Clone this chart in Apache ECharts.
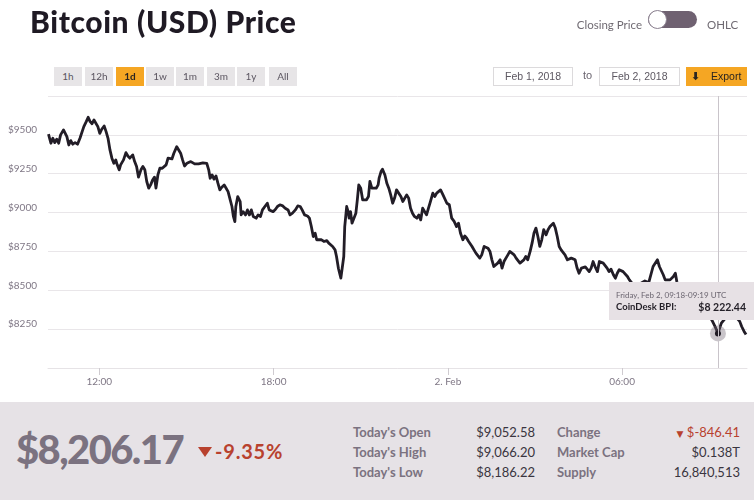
<!DOCTYPE html>
<html>
<head>
<meta charset="utf-8">
<title>Bitcoin (USD) Price</title>
<script src="https://cdn.jsdelivr.net/npm/echarts@6/dist/echarts.min.js"></script>
<style>
html, body { margin: 0; padding: 0; background: #fff; }
body { width: 754px; height: 500px; position: relative; overflow: hidden; font-family: Lato, "Open Sans", sans-serif; }
#chart { position: absolute; left: 0; top: 0; width: 754px; height: 500px; }
.abs { position: absolute; white-space: nowrap; }
.title { left: 30px; top: 6px; font-size: 30px; line-height: 30px; font-weight: 900; color: #1f1a24; letter-spacing: 0.6px; }
.toggleTxt { font-size: 11.5px; line-height: 14px; color: #6f6a72; top: 18px; }
.pill { left: 648px; top: 11px; width: 49px; height: 17px; border-radius: 9px; background: #6f6171; }
.knob { left: 648px; top: 10px; width: 17px; height: 17px; border-radius: 50%; background: #fff; border: 1px solid #8b8190; }
.btn { top: 67px; height: 19px; line-height: 19px; width: 28px; text-align: center; font-size: 10px; color: #5b5560; background: #e7e5e7; }
.btn.on { background: #f5a623; color: #2b2520; font-weight: 700; }
.date { top: 67px; height: 17px; line-height: 17px; border: 1px solid #dcdadc; text-align: center; font-size: 10.5px; color: #5d5862; background: #fff; font-family: "Liberation Sans", Arial, sans-serif; }
.export { left: 686px; top: 67px; width: 61px; height: 19px; line-height: 19px; background: #f5a623; font-size: 10.5px; color: #2b2520; font-family: "Liberation Sans", Arial, sans-serif; }
.panel { left: 0; top: 402px; width: 754px; height: 98px; background: #e6e2e6; }
.big { left: 16px; top: 429px; font-size: 40px; line-height: 40px; font-weight: 900; color: #7b7280; letter-spacing: -1.6px; }
.pct { left: 215px; top: 441px; font-size: 20px; line-height: 20px; font-weight: 700; color: #b8412e; letter-spacing: 0.8px; }
.tri { left: 198px; top: 447px; width: 0; height: 0; border-left: 7px solid transparent; border-right: 7px solid transparent; border-top: 10px solid #b8412e; }
.stat { font-size: 13px; line-height: 20px; top: 422px; }
.lbl { font-weight: 700; color: #7b7280; }
.val { color: #3a3540; text-align: right; }
</style>
</head>
<body>
<div id="chart"></div>
<div id="ui"></div>
<script>
// price data: minutes since Feb 1 2018 00:00 UTC -> CoinDesk BPI (USD)
var times = [
    615, 620, 624, 628, 632, 636, 640, 646, 650, 653, 657, 661, 665, 670, 675, 680, 684, 688, 693, 697,
    701, 705, 709, 713, 717, 721, 725, 730, 734, 738, 742, 746, 750, 754, 757, 761, 764, 770, 775, 779,
    783, 789, 793, 797, 801, 806, 810, 814, 818, 822, 826, 830, 834, 837, 841, 845, 850, 854, 858, 862,
    866, 870, 874, 880, 884, 888, 892, 896, 901, 905, 909, 913, 917, 921, 925, 929, 934, 938, 942, 946,
    949, 953, 957, 961, 965, 969, 973, 978, 982, 986, 990, 994, 997, 1000, 1002, 1006, 1011, 1013, 1017, 1022,
    1026, 1030, 1034, 1038, 1044, 1048, 1053, 1057, 1062, 1067, 1071, 1075, 1079, 1084, 1088, 1093, 1099, 1104, 1110, 1114,
    1119, 1125, 1130, 1135, 1139, 1144, 1150, 1154, 1158, 1162, 1166, 1169, 1173, 1179, 1184, 1190, 1194, 1198, 1202, 1207,
    1210, 1214, 1219, 1223, 1225, 1227, 1231, 1234, 1236, 1239, 1242, 1246, 1250, 1253, 1256, 1260, 1264, 1268, 1272, 1276,
    1279, 1283, 1287, 1292, 1296, 1298, 1302, 1305, 1310, 1314, 1318, 1322, 1326, 1330, 1334, 1338, 1343, 1347, 1351, 1355,
    1359, 1363, 1367, 1371, 1376, 1380, 1384, 1388, 1392, 1396, 1400, 1404, 1409, 1413, 1417, 1421, 1425, 1430, 1438, 1443,
    1448, 1453, 1458, 1462, 1466, 1471, 1475, 1479, 1483, 1486, 1490, 1494, 1498, 1502, 1506, 1510, 1515, 1519, 1523, 1527,
    1531, 1535, 1539, 1543, 1548, 1552, 1556, 1560, 1564, 1568, 1572, 1577, 1581, 1585, 1589, 1593, 1597, 1601, 1605, 1610,
    1614, 1618, 1622, 1626, 1630, 1634, 1638, 1643, 1647, 1651, 1655, 1658, 1662, 1666, 1670, 1674, 1678, 1682, 1687, 1691,
    1695, 1699, 1703, 1707, 1711, 1716, 1720, 1724, 1728, 1732, 1736, 1740, 1744, 1749, 1753, 1757, 1761, 1765, 1769, 1773,
    1777, 1782, 1786, 1790, 1794, 1798, 1802, 1806, 1811, 1815, 1822, 1831, 1839, 1847, 1855, 1864, 1873, 1877, 1881, 1885,
    1889, 1893, 1899, 1906, 1910, 1913, 1919, 1928, 1936, 1944, 1952, 1961, 1969, 1977, 1985, 1992, 1998, 2005, 2009, 2016,
    2025, 2033, 2043, 2047, 2052, 2056
];
var prices = [
    9505, 9446, 9478, 9450, 9472, 9446, 9500, 9532, 9521, 9489, 9435, 9463, 9440, 9450, 9440, 9478, 9472, 9553, 9585, 9613,
    9585, 9572, 9596, 9585, 9553, 9510, 9536, 9557, 9521, 9478, 9403, 9350, 9317, 9339, 9307, 9275, 9307, 9339, 9386, 9364,
    9350, 9371, 9328, 9296, 9228, 9275, 9296, 9275, 9200, 9157, 9178, 9210, 9228, 9157, 9242, 9285, 9285, 9275, 9307, 9350,
    9360, 9345, 9382, 9424, 9414, 9382, 9339, 9300, 9317, 9307, 9328, 9335, 9313, 9307, 9313, 9307, 9320, 9328, 9317, 9275,
    9221, 9242, 9215, 9236, 9189, 9146, 9163, 9178, 9157, 9135, 9086, 9039, 8975, 8942, 9039, 9103, 9071, 8985, 9006, 8985,
    9017, 8985, 9017, 8975, 8964, 8985, 8975, 9017, 9039, 9060, 9017, 9028, 9006, 9021, 9039, 9050, 9043, 9028, 9017, 8985,
    8996, 9017, 9043, 9039, 9017, 8985, 8978, 8964, 8910, 8846, 8867, 8825, 8814, 8825, 8814, 8820, 8803, 8792, 8782, 8760,
    8717, 8640, 8578, 8589, 8717, 8910, 9039, 9006, 8964, 9006, 8932, 8964, 8996, 9082, 9178, 9157, 9082, 9093, 9082, 9103,
    9200, 9157, 9167, 9157, 9178, 9221, 9264, 9279, 9242, 9189, 9157, 9114, 9060, 9093, 9146, 9135, 9103, 9071, 9093, 9114,
    9093, 9028, 8996, 8975, 8964, 8985, 8953, 9028, 9017, 8985, 9028, 9071, 9125, 9103, 9125, 9135, 9146, 9114, 9060, 9050,
    8964, 8943, 8910, 8932, 8868, 8825, 8850, 8835, 8814, 8825, 8782, 8760, 8739, 8750, 8707, 8728, 8782, 8792, 8771, 8750,
    8696, 8653, 8643, 8675, 8696, 8643, 8685, 8707, 8728, 8750, 8760, 8728, 8707, 8696, 8675, 8664, 8696, 8718, 8696, 8750,
    8803, 8868, 8900, 8846, 8782, 8825, 8890, 8857, 8890, 8910, 8921, 8932, 8900, 8846, 8782, 8760, 8771, 8728, 8696, 8685,
    8707, 8718, 8696, 8643, 8610, 8643, 8636, 8650, 8643, 8620, 8643, 8685, 8653, 8620, 8685, 8696, 8675, 8664, 8643, 8620,
    8636, 8600, 8578, 8610, 8632, 8643, 8620, 8610, 8589, 8567, 8540, 8530, 8545, 8560, 8550, 8653, 8696, 8653, 8643, 8600,
    8567, 8567, 8567, 8589, 8610, 8556, 8500, 8470, 8440, 8420, 8390, 8370, 8350, 8330, 8311, 8267, 8222.44, 8289, 8300, 8330,
    8350, 8335, 8300, 8267, 8235, 8215
];

var xTickMinutes = [720, 1080, 1440, 1800];
var xTickLabels = ['12:00', '18:00', '2. Feb', '06:00'];
var rangeButtons = ['1h', '12h', '1d', '1w', '1m', '3m', '1y', 'All'];
var activeRange = '1d';
var dateFrom = 'Feb 1, 2018';
var dateTo = 'Feb 2, 2018';

var currentPrice = '$8,206.17';
var changePct = '-9.35%';
var statLabelsLeft = ["Today's Open", "Today's High", "Today's Low"];
var statValuesLeft = ['$9,052.58', '$9,066.20', '$8,186.22'];
var statLabelsRight = ['Change', 'Market Cap', 'Supply'];
var statValuesRight = ['$-846.41', '$0.138T', '16,840,513'];

var hoverTime = 1998; // Feb 2, 09:18 UTC
var hoverIdx = times.indexOf(hoverTime);

// ---- page chrome (html) ----
var ui = document.getElementById('ui');
function add(cls, text, css) {
    var d = document.createElement('div');
    d.className = 'abs ' + cls;
    if (text) d.textContent = text;
    if (css) d.style.cssText = css;
    ui.appendChild(d);
    return d;
}
add('title', 'Bitcoin (USD) Price');
add('toggleTxt', 'Closing Price', 'right:' + (754 - 642) + 'px');
add('pill');
add('knob');
add('toggleTxt', 'OHLC', 'left:707px');

var btnLeft = [54, 85, 116, 146, 176, 207, 237, 269];
rangeButtons.forEach(function(b, i) {
    add('btn' + (b === activeRange ? ' on' : ''), b, 'left:' + btnLeft[i] + 'px');
});
add('date', dateFrom, 'left:493px;width:78px');
add('abs', 'to', 'left:583px;top:69px;font-size:11px;color:#6b6570;font-family:Liberation Sans,Arial,sans-serif');
add('date', dateTo, 'left:599px;width:79px');
var exp = add('export', '');
exp.innerHTML = '<span style="position:absolute;left:5px;top:0;font-family:DejaVu Sans;font-size:11px;font-weight:bold">&#x2B07;</span>' +
    '<span style="position:absolute;left:25px;top:0">Export</span>';

add('panel');
add('big', currentPrice);
add('tri');
add('pct', changePct);
statLabelsLeft.forEach(function(t, i) {
    add('stat lbl', t, 'left:353px;top:' + (422 + i * 20) + 'px');
});
statValuesLeft.forEach(function(t, i) {
    add('stat val', t, 'left:440px;width:95px;top:' + (422 + i * 20) + 'px');
});
statLabelsRight.forEach(function(t, i) {
    add('stat lbl', t, 'left:557px;top:' + (422 + i * 20) + 'px');
});
statValuesRight.forEach(function(t, i) {
    var d = add('stat val', '', 'left:640px;width:100px;top:' + (422 + i * 20) + 'px');
    if (i === 0) {
        d.innerHTML = '<span style="font-family:DejaVu Sans;font-size:9px;color:#b8412e">&#9660;</span> ' +
            '<span style="color:#b8412e">' + t + '</span>';
    } else {
        d.textContent = t;
    }
});

// ---- chart ----
function pad(n) { return (n < 10 ? '0' : '') + n; }
function hhmm(m) {
    var d = new Date(Date.UTC(2018, 1, 1, 0, m));
    return pad(d.getUTCHours()) + ':' + pad(d.getUTCMinutes());
}
var dayNames = ['Sunday', 'Monday', 'Tuesday', 'Wednesday', 'Thursday', 'Friday', 'Saturday'];

var chart = echarts.init(document.getElementById('chart'));
var option = {
    animation: false,
    textStyle: { fontFamily: 'Lato, "Open Sans", sans-serif' },
    grid: { left: 48, right: 7, top: 96, bottom: 132 },
    tooltip: {
        trigger: 'axis',
        triggerOn: 'none',
        alwaysShowContent: true,
        transitionDuration: 0,
        position: [609, 282],
        backgroundColor: '#e7e1e5',
        borderWidth: 0,
        borderRadius: 0,
        padding: [7, 8, 7, 7],
        extraCssText: 'box-shadow:none;width:130px;',
        axisPointer: {
            type: 'line',
            animation: false,
            lineStyle: { color: '#c9c4ca', width: 1, type: 'solid' }
        },
        formatter: function(params) {
            var p = params[0];
            var m = p.value[0];
            var d = new Date(Date.UTC(2018, 1, 1, 0, m));
            var head = dayNames[d.getUTCDay()] + ', Feb ' + d.getUTCDate() + ', ' + hhmm(m) + '-' + hhmm(m + 1) + ' UTC';
            var v = p.value[1].toFixed(2).replace(/\B(?=(\d{3})+(?!\d))/g, ' ');
            return '<div style="font-size:8px;line-height:12px;color:#6b6570">' + head + '</div>' +
                '<div style="font-size:9.5px;line-height:12px;font-weight:700;color:#231f27">CoinDesk BPI:' +
                '<span style="float:right;font-size:10.5px">$' + v + '</span></div>';
        }
    },
    xAxis: {
        type: 'value',
        min: 614,
        max: 2058,
        splitLine: { show: false },
        axisLine: { show: true, lineStyle: { color: '#e6e3e6' } },
        axisTick: {
            show: true,
            length: 7,
            customValues: xTickMinutes,
            lineStyle: { color: '#cfcbd0' }
        },
        axisLabel: {
            customValues: xTickMinutes,
            fontSize: 10,
            color: '#7f7785',
            margin: 9,
            formatter: function(v) {
                var i = xTickMinutes.indexOf(v);
                return i >= 0 ? xTickLabels[i] : '';
            }
        }
    },
    yAxis: {
        type: 'value',
        min: 8000,
        max: 9750,
        interval: 250,
        axisLine: { show: false },
        axisTick: { show: false },
        splitLine: { lineStyle: { color: '#e9e6e9', width: 1 } },
        axisLabel: {
            fontSize: 10,
            color: '#7f7785',
            margin: 11,
            verticalAlign: 'bottom',
            formatter: function(v) {
                if (v === 8000 || v === 9750) return '';
                return '$' + v;
            }
        }
    },
    series: [{
        type: 'line',
        data: times.map(function(t, i) { return [t, prices[i]]; }),
        symbol: 'none',
        lineStyle: { color: '#1f1b24', width: 2.8, join: 'round' },
        markPoint: {
            silent: true,
            label: { show: false },
            data: [
                { coord: [times[hoverIdx], prices[hoverIdx]], symbol: 'circle', symbolSize: 16,
                  itemStyle: { color: 'rgba(112,102,116,0.38)' } },
                { coord: [times[hoverIdx], prices[hoverIdx]], symbol: 'circle', symbolSize: 6,
                  itemStyle: { color: '#1f1b24' } }
            ]
        }
    }]
};
chart.setOption(option);
chart.dispatchAction({ type: 'showTip', seriesIndex: 0, dataIndex: hoverIdx });
</script>
</body>
</html>
